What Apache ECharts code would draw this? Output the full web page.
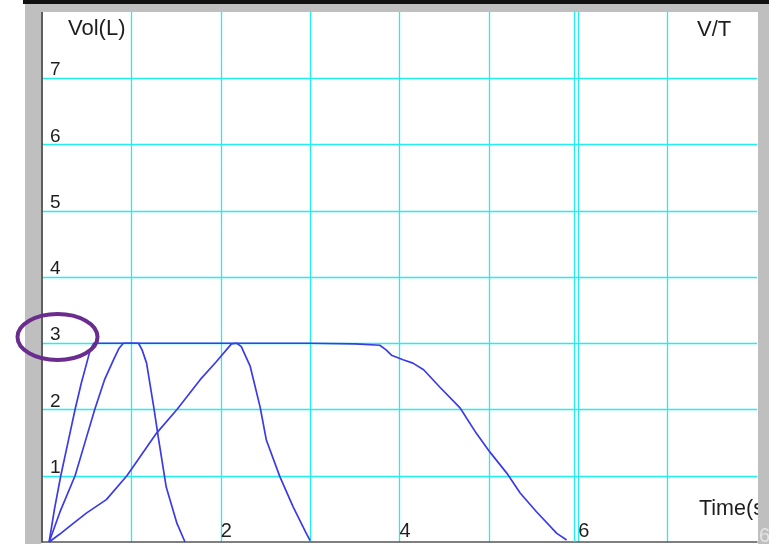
<!DOCTYPE html>
<html>
<head>
<meta charset="utf-8">
<script src="https://cdn.jsdelivr.net/npm/echarts@6/dist/echarts.min.js"></script>
<style>html,body{margin:0;padding:0;background:#fff;}#c{width:769px;height:544px;}</style>
</head>
<body>
<div id="c"></div>
<script>
// Data (time in s, volume in L)
const curve1 = [[0.08,0],[0.14,0.5],[0.21,1.0],[0.29,1.5],[0.37,2.0],[0.44,2.4],[0.50,2.7],[0.54,2.9],[0.58,3.0],[1.0,3.0],[2.0,3.0],[3.0,3.0],[3.5,2.99],[3.78,2.97],[3.85,2.9],[3.91,2.82],[4.04,2.75],[4.15,2.70],[4.27,2.60],[4.45,2.34],[4.68,2.02],[4.86,1.64],[5.01,1.36],[5.20,1.04],[5.35,0.74],[5.53,0.46],[5.76,0.13],[5.87,0.03]];
const curve2 = [[0.08,0],[0.2,0.45],[0.37,1.0],[0.48,1.5],[0.59,2.0],[0.7,2.45],[0.8,2.75],[0.86,2.92],[0.91,3.0],[1.08,3.0],[1.12,2.9],[1.17,2.70],[1.25,2.04],[1.30,1.59],[1.39,0.83],[1.51,0.28],[1.60,0.0]];
const curve3 = [[0.08,0],[0.2,0.12],[0.35,0.28],[0.5,0.44],[0.72,0.64],[0.95,1.0],[1.28,1.64],[1.51,2.0],[1.77,2.45],[1.95,2.72],[2.12,2.99],[2.18,3.0],[2.23,2.95],[2.33,2.65],[2.44,2.04],[2.51,1.54],[2.66,0.99],[2.81,0.53],[2.95,0.15],[3.0,0.02]];
const yTickLabels = [1,2,3,4,5,6,7];
const xTickLabels = [2,4,6];
const yTitle = 'Vol(L)';
const xTitle = 'Time(s)';
const chartTitle = 'V/T';

const chart = echarts.init(document.getElementById('c'), null, {renderer:'canvas'});
const gridColor = '#22eef0';
const lineColor = '#3b3be8';
const font = 'Liberation Sans, Arial, sans-serif';
const lineSeries = (d) => ({type:'line', data:d, showSymbol:false, smooth:false, silent:true,
  lineStyle:{color:lineColor, width:1.7}, z:5});

chart.setOption({
  animation:false,
  backgroundColor:'#fff',
  grid:{left:42, top:12, right:12, bottom:2, containLabel:false},
  xAxis:{type:'value', min:0, max:8, interval:1,
    axisLine:{show:true, onZero:false, lineStyle:{color:'#555', width:1.5}},
    axisTick:{show:false},
    splitLine:{show:true, showMinLine:false, showMaxLine:false, lineStyle:{color:gridColor, width:1.3}},
    axisLabel:{inside:true, margin:1, align:'left', verticalAlign:'bottom', color:'#1e1e1e', fontSize:20, fontFamily:font,
      formatter:(v)=> xTickLabels.includes(v) ? String(v) : '', showMinLabel:false, showMaxLabel:false}
  },
  yAxis:[{type:'value', min:0, max:8, interval:1,
    axisLine:{show:true, onZero:false, lineStyle:{color:'#555', width:1.5}},
    axisTick:{show:false},
    splitLine:{show:true, showMinLine:false, showMaxLine:false, lineStyle:{color:gridColor, width:1.3}},
    axisLabel:{inside:true, margin:8, align:'left', verticalAlign:'bottom', color:'#1e1e1e', fontSize:19, fontFamily:font, lineHeight:16,
      formatter:(v)=> yTickLabels.includes(v) ? String(v) : ''}
  },{type:'value', min:0, max:8, interval:1, position:'right',
    axisLine:{show:true, lineStyle:{color:'#555', width:1.5}}, axisTick:{show:false}, axisLabel:{show:false}, splitLine:{show:false}
  }],
  series:[
    Object.assign(lineSeries(curve1), {markLine:{silent:true, symbol:'none', label:{show:false},
      lineStyle:{color:gridColor, width:1.3, type:'solid'}, data:[{xAxis:5.965}]}}),
    lineSeries(curve2),
    lineSeries(curve3)
  ],
  graphic:[
    {type:'rect', shape:{x:23,y:0,width:746,height:4}, style:{fill:'#111'}, z:100},
    {type:'rect', shape:{x:25,y:4,width:744,height:8}, style:{fill:'#bfbfbf'}, z:100},
    {type:'rect', shape:{x:25,y:4,width:16,height:540}, style:{fill:'#bfbfbf'}, z:100},
    {type:'text', left:68, top:18, style:{text:yTitle, font:'22px '+font, fill:'#1e1e1e'}, z:50},
    {type:'text', left:697, top:19, style:{text:chartTitle, font:'22px '+font, fill:'#1e1e1e'}, z:50},
    {type:'text', left:699, top:498, style:{text:xTitle, font:'21.5px '+font, fill:'#1e1e1e'}, z:50},
    {type:'rect', shape:{x:758,y:4,width:11,height:540}, style:{fill:'#bfbfbf'}, z:100},
    {type:'text', left:759, top:526, style:{text:'6', font:'20px '+font, fill:'#e4e4e4'}, z:101},
    {type:'ellipse', shape:{cx:57.5, cy:337, rx:40, ry:23}, style:{fill:'none', stroke:'#6a2c8e', lineWidth:4}, z:120}
  ]
});
</script>
</body>
</html>
